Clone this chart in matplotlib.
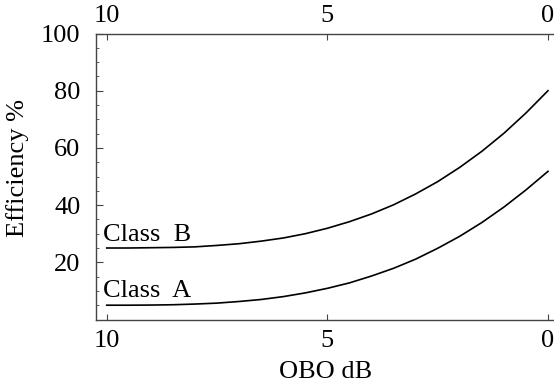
import matplotlib
matplotlib.use("Agg")
import matplotlib.pyplot as plt
from matplotlib.ticker import MultipleLocator
from matplotlib.transforms import ScaledTranslation

obo_db = [10, 9.5, 9, 8.5, 8, 7.5, 7, 6.5, 6, 5.5, 5, 4.5, 4, 3.5, 3, 2.5, 2, 1.5, 1, 0.5, 0]
class_a = [5.0, 5.0, 5.05, 5.16, 5.4, 5.73, 6.3, 7.0, 8.0, 9.3, 10.9, 12.8, 15.2, 17.9, 21.1, 24.9, 29.1, 33.9, 39.3, 45.3, 51.8]
class_b = [25.0, 25.0, 25.1, 25.2, 25.4, 25.9, 26.5, 27.4, 28.5, 30.0, 31.9, 34.2, 36.9, 40.1, 43.9, 48.2, 53.2, 58.8, 65.1, 72.2, 80.0]
x_ticks = [10, 5, 0]
y_ticks = [20, 40, 60, 80, 100]

plt.rcParams['font.family'] = ['Liberation Serif', 'DejaVu Serif']
fs = 19

fig = plt.figure(figsize=(5.54, 3.86), dpi=100)
ax = fig.add_axes([95.7/554, 66.5/386, (554-95.7)/554, 286/386])

ax.plot(obo_db, class_a, color='black', lw=1.2)
ax.plot(obo_db, class_b, color='black', lw=1.2)

ax.set_xlim(10.25, -0.136)
ax.set_ylim(0, 100)

ax.set_xticks(x_ticks)
ax.set_xticklabels([str(t) for t in x_ticks])
ax.set_yticks(y_ticks)
ax.set_yticklabels([str(t) for t in y_ticks])
ax.yaxis.set_minor_locator(MultipleLocator(5))

ax.spines['right'].set_visible(False)
for s in ['left', 'bottom', 'top']:
    ax.spines[s].set_color('#444444')
    ax.spines[s].set_linewidth(1.0)

ax.tick_params(axis='x', which='both', direction='in', top=True, labeltop=True,
               bottom=True, labelbottom=True, length=4, width=0.8, color='#444444',
               labelsize=fs, pad=4.5)
ax.tick_params(axis='y', which='major', direction='in', length=5, width=0.8,
               color='#444444', labelsize=fs, pad=11)
ax.tick_params(axis='y', which='minor', direction='in', length=2.5, width=0.6,
               color='#444444')

# bottom tick labels sit a little lower than top ones in the reference
offset = ScaledTranslation(0, -4.5 / 100, fig.dpi_scale_trans)
for t in ax.xaxis.get_major_ticks():
    t.label1.set_transform(t.label1.get_transform() + offset)

ax.set_xlabel('OBO dB', fontsize=fs)
ax.set_ylabel('Efficiency %', fontsize=fs)
ax.xaxis.set_label_coords(0.502, -0.145)
ax.yaxis.set_label_coords(-0.1455, 0.528)

ax.text(10.08, 27.3, 'Class  B', fontsize=fs, ha='left', va='baseline')
ax.text(10.08, 7.8, 'Class  A', fontsize=fs, ha='left', va='baseline')

fig.savefig('out.png', dpi=100)
